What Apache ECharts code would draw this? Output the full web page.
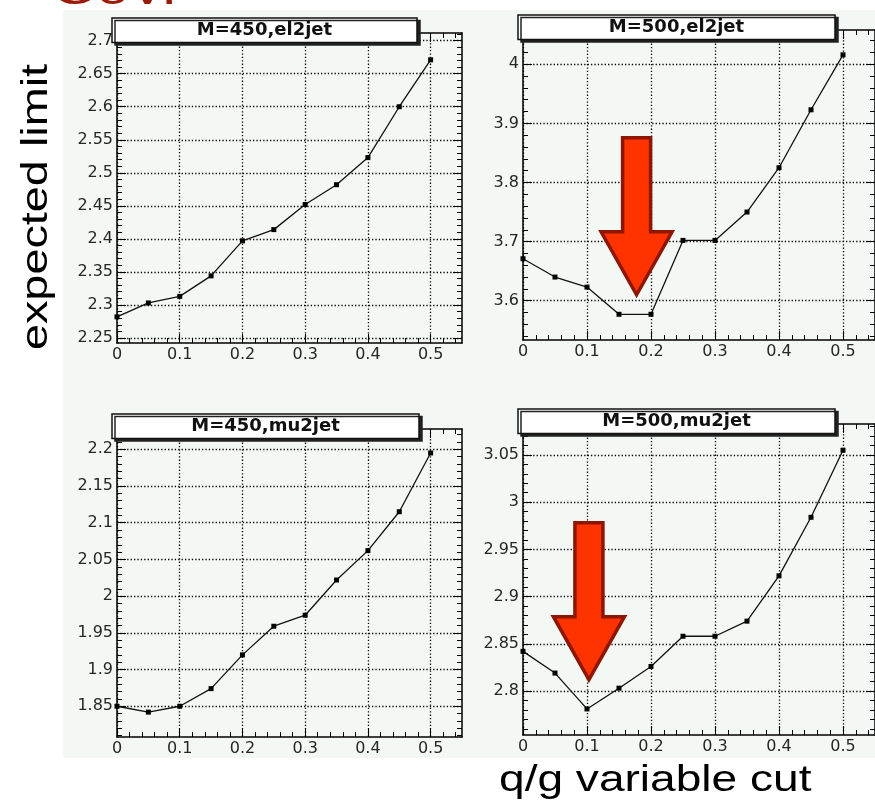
<!DOCTYPE html>
<html>
<head>
<meta charset="utf-8">
<script src="https://cdn.jsdelivr.net/npm/echarts@6/dist/echarts.min.js"></script>
<style>
  html, body { margin: 0; padding: 0; background: #ffffff; }
  #chart { width: 875px; height: 812px; }
</style>
</head>
<body>
<div id="chart"></div>
<script>
// q/g cut values scanned on the x axis
const cutValues = [0, 0.05, 0.1, 0.15, 0.2, 0.25, 0.3, 0.35, 0.4, 0.45, 0.5];
const xTickLabels = [0, 0.1, 0.2, 0.3, 0.4, 0.5];

// expected limit for each channel / mass point
const limitM450El = [2.282, 2.303, 2.313, 2.344, 2.397, 2.414, 2.452, 2.482, 2.523, 2.600, 2.671];
const limitM500El = [3.671, 3.640, 3.623, 3.577, 3.577, 3.702, 3.702, 3.750, 3.825, 3.923, 4.016];
const limitM450Mu = [1.850, 1.842, 1.850, 1.874, 1.920, 1.959, 1.974, 2.022, 2.062, 2.115, 2.195];
const limitM500Mu = [2.842, 2.819, 2.781, 2.803, 2.826, 2.858, 2.858, 2.874, 2.922, 2.984, 3.055];

// y tick labels per pad
const yTicksM450El = [2.25, 2.3, 2.35, 2.4, 2.45, 2.5, 2.55, 2.6, 2.65, 2.7];
const yTicksM500El = [3.6, 3.7, 3.8, 3.9, 4];
const yTicksM450Mu = [1.85, 1.9, 1.95, 2, 2.05, 2.1, 2.15, 2.2];
const yTicksM500Mu = [2.8, 2.85, 2.9, 2.95, 3, 3.05];

const padTitles = ['M=450,el2jet', 'M=500,el2jet', 'M=450,mu2jet', 'M=500,mu2jet'];

// pad layout: frame rectangle, y range, title box width
const pads = [
  { title: padTitles[0], values: limitM450El, yTicks: yTicksM450El, yMin: 2.2424, yMax: 2.7116,
    grid: { left: 117, top: 33, width: 345, height: 310 }, boxWidth: 305 },
  { title: padTitles[1], values: limitM500El, yTicks: yTicksM500El, yMin: 3.5335, yMax: 4.058,
    grid: { left: 523, top: 30, width: 356, height: 310 }, boxWidth: 317 },
  { title: padTitles[2], values: limitM450Mu, yTicks: yTicksM450Mu, yMin: 1.8081, yMax: 2.2277,
    grid: { left: 117, top: 429, width: 345, height: 308 }, boxWidth: 307 },
  { title: padTitles[3], values: limitM500Mu, yTicks: yTicksM500Mu, yMin: 2.7534, yMax: 3.0828,
    grid: { left: 523, top: 424, width: 356, height: 311 }, boxWidth: 317 }
];

// five subdivisions between major ticks, limited to the axis range
function minorTicks(majors, min, max) {
  const step = (majors[1] - majors[0]) / 5;
  const out = [];
  const start = Math.ceil((min - majors[0]) / step - 1e-9);
  for (let k = start; majors[0] + k * step <= max + 1e-9; k++) {
    if (k % 5 !== 0) out.push(+(majors[0] + k * step).toFixed(5));
  }
  return out;
}

const black = { color: '#000', width: 1 };
const frameLine = { show: true, onZero: false, lineStyle: { color: '#000', width: 1.5 } };
const noLine = { show: false, onZero: false };
const gridDots = { show: true, lineStyle: { color: '#000', width: 1.3, type: [1.3, 2.1] } };
const tickFont = { color: '#262626', fontFamily: 'DejaVu Sans', fontSize: 16 };

const grids = [], xAxes = [], yAxes = [], series = [];

pads.forEach((p, i) => {
  grids.push(Object.assign({ containLabel: false }, p.grid));
  const xMinor = minorTicks(xTickLabels, 0, 0.55);
  const yMinor = minorTicks(p.yTicks, p.yMin, p.yMax);
  const xBase = { type: 'value', gridIndex: i, min: 0, max: 0.55 };
  const yBase = { type: 'value', gridIndex: i, min: p.yMin, max: p.yMax };

  // bottom / top frame with major and minor ticks
  ['bottom', 'top'].forEach((pos) => {
    xAxes.push(Object.assign({}, xBase, {
      position: pos, axisLine: frameLine,
      axisTick: { show: true, inside: true, length: 9, customValues: xTickLabels, lineStyle: black },
      axisLabel: pos === 'bottom'
        ? Object.assign({ show: true, margin: 4, customValues: xTickLabels }, tickFont)
        : { show: false },
      splitLine: pos === 'bottom' ? gridDots : { show: false }
    }));
    xAxes.push(Object.assign({}, xBase, {
      position: pos, axisLine: noLine,
      axisTick: { show: true, inside: true, length: 5, customValues: xMinor, lineStyle: black },
      axisLabel: { show: false }, splitLine: { show: false }
    }));
  });

  // left / right frame with major and minor ticks
  ['left', 'right'].forEach((pos) => {
    yAxes.push(Object.assign({}, yBase, {
      position: pos, axisLine: frameLine,
      axisTick: { show: true, inside: true, length: 9, customValues: p.yTicks, lineStyle: black },
      axisLabel: pos === 'left'
        ? Object.assign({ show: true, margin: 4, customValues: p.yTicks }, tickFont)
        : { show: false },
      splitLine: pos === 'left' ? gridDots : { show: false }
    }));
    yAxes.push(Object.assign({}, yBase, {
      position: pos, axisLine: noLine,
      axisTick: { show: true, inside: true, length: 5, customValues: yMinor, lineStyle: black },
      axisLabel: { show: false }, splitLine: { show: false }
    }));
  });

  series.push({
    type: 'line',
    xAxisIndex: i * 4,
    yAxisIndex: i * 4,
    data: cutValues.map((x, k) => [x, p.values[k]]),
    symbol: 'rect',
    symbolSize: 5,
    showAllSymbol: true,
    lineStyle: { color: '#111', width: 1.3 },
    itemStyle: { color: '#000' },
    z: 5,
    animation: false
  });
});

function padGraphics() {
  const g = [];
  // pad fill
  g.push({ type: 'rect', silent: true, z: -100,
    shape: { x: 63, y: 10, width: 812, height: 748 }, style: { fill: '#f4f8f5' } });
  // title boxes
  pads.forEach((p) => {
    const x = p.grid.left - 5, y = p.grid.top - 15;
    g.push({ type: 'rect', z: 100, silent: true,
      shape: { x: x, y: y, width: p.boxWidth, height: 24.5 },
      style: { fill: '#ffffff', stroke: '#111', lineWidth: 1.5,
        shadowColor: '#222', shadowOffsetX: 3, shadowOffsetY: 2.5, shadowBlur: 0 } });
    g.push({ type: 'text', z: 101, silent: true,
      x: x + p.boxWidth / 2, y: y + 12.5,
      style: { text: p.title, fill: '#111', font: 'bold 18px "DejaVu Sans"',
        textAlign: 'center', textVerticalAlign: 'middle' } });
  });
  // axis titles
  g.push({ type: 'text', z: 50, silent: true, x: 37, y: 207, rotation: Math.PI / 2, scaleX: 1.3,
    style: { text: 'expected limit', fill: '#000', font: '36px "Liberation Sans"',
      textAlign: 'center', textVerticalAlign: 'middle' } });
  g.push({ type: 'text', z: 50, silent: true, x: 499, y: 799, scaleX: 1.28,
    style: { text: 'q/g variable cut', fill: '#000', font: '36px "Liberation Sans"',
      textAlign: 'left', textVerticalAlign: 'bottom' } });
  // slide heading running off the top
  g.push({ type: 'text', z: 50, silent: true, x: 52, y: 14, scaleX: 1.3,
    style: { text: 'GeV.', fill: '#9b1b08', font: '44px "Liberation Sans"',
      textAlign: 'left', textVerticalAlign: 'bottom' } });
  return g;
}

function arrow(tx, ty) {
  return { type: 'polygon', z: 120, silent: true,
    shape: { points: [
      [tx - 14, ty - 157], [tx + 14, ty - 157], [tx + 14, ty - 63], [tx + 35.5, ty - 63],
      [tx, ty], [tx - 35.5, ty - 63], [tx - 14, ty - 63]
    ] },
    style: { fill: '#ff3300', stroke: '#8e1600', lineWidth: 3.5, lineJoin: 'miter' } };
}

const chart = echarts.init(document.getElementById('chart'), null, { renderer: 'canvas' });
chart.setOption({
  animation: false,
  backgroundColor: '#ffffff',
  grid: grids,
  xAxis: xAxes,
  yAxis: yAxes,
  series: series,
  graphic: padGraphics()
});

// arrows pointing at the minima of the M=500 pads
const tipEl = chart.convertToPixel({ seriesIndex: 1 }, [0.1775, 3.61]);
const tipMu = chart.convertToPixel({ seriesIndex: 3 }, [0.103, 2.812]);
chart.setOption({ graphic: padGraphics().concat([arrow(tipEl[0], tipEl[1]), arrow(tipMu[0], tipMu[1])]) });
</script>
</body>
</html>
